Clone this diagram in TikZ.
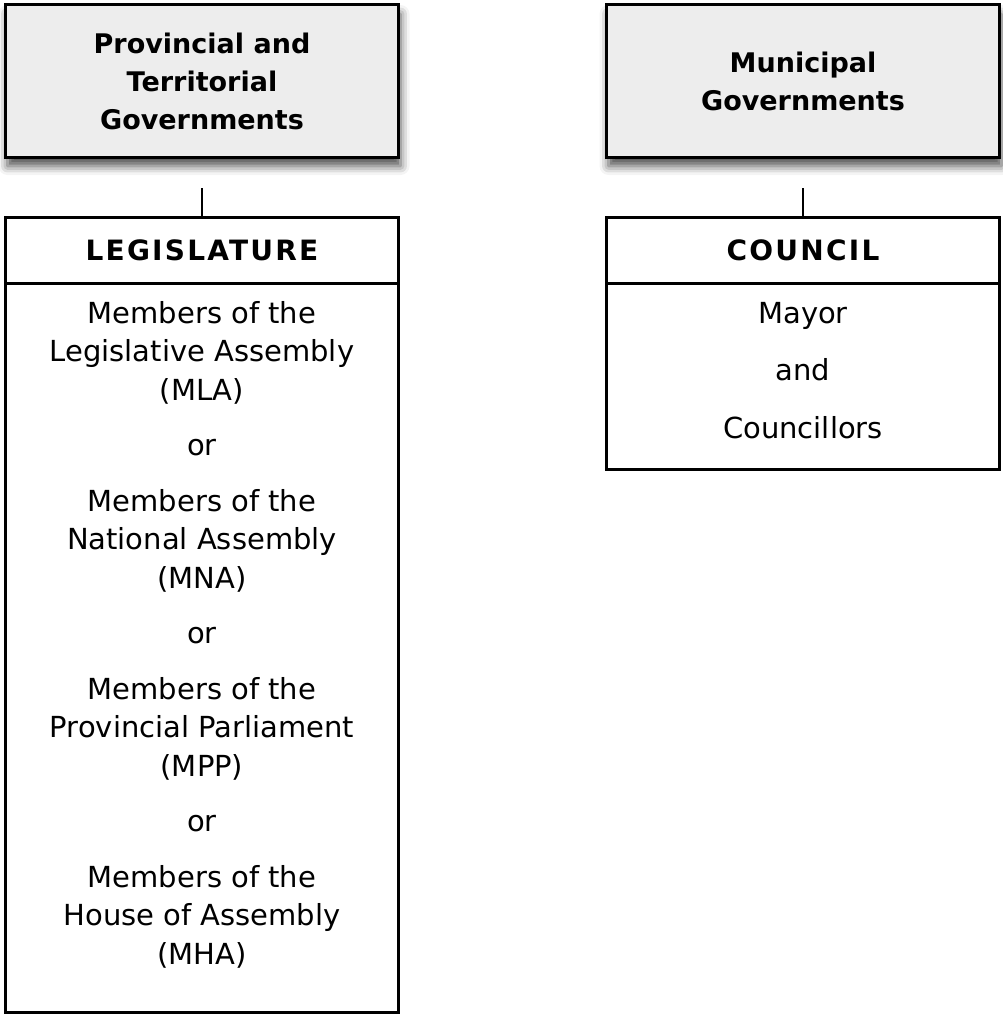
\documentclass[tikz,border=0pt]{standalone}
\usepackage{fontspec}
\setmainfont{DejaVu Sans}
\usetikzlibrary{positioning,shadows.blur}
\tikzset{
        govbox/.style={draw=black, line width=3pt, outer sep=0pt, fill=black!7, minimum width=393pt, minimum height=152pt, align=center,
          font=\bfseries\fontsize{27}{38}\selectfont,
          blur shadow={shadow xshift=2pt, shadow yshift=-9pt, shadow blur radius=9pt, shadow opacity=70}},
        headbox/.style={draw=black, line width=3pt, outer sep=0pt, minimum width=393pt, minimum height=66pt,
          font=\bfseries\fontsize{28}{32}\selectfont\addfontfeature{LetterSpace=8}},
        bodybox/.style={draw=black, line width=3pt, outer sep=0pt, minimum width=393pt},
        bodytext/.style={align=center, anchor=north, inner sep=0pt, font=\fontsize{29}{38.5}\selectfont},
        link/.style={line width=2pt}
          }

\begin{document}
\begin{tikzpicture}[x=1pt, y=-1pt]
        \useasboundingbox (0,0) rectangle (1002,1014);
        % governments
        \node[govbox] (prov) at (202,81) {Provincial and\\Territorial\\Governments};
        \node[govbox] (muni) at (803,81) {Municipal\\Governments};
        % header rows
        \node[headbox, below=60pt of prov] (leg) {LEGISLATURE};
        \node[headbox, below=60pt of muni] (coun) {COUNCIL};
        % body frames
        \node[bodybox, minimum height=729pt, below=0pt of leg] (legbody) {};
        \node[bodybox, minimum height=186pt, below=0pt of coun] (counbody) {};
        % body texts
        \node[bodytext, below=18pt of legbody.north] (members) {Members of the\\Legislative Assembly\\(MLA)\\[17pt]
          or\\[17pt]
          Members of the\\National Assembly\\(MNA)\\[17pt]
          or\\[17pt]
          Members of the\\Provincial Parliament\\(MPP)\\[17pt]
          or\\[17pt]
          Members of the\\House of Assembly\\(MHA)};
        \node[bodytext, below=19pt of counbody.north] (mayor) {Mayor\\[19pt] and\\[19pt] Councillors};
        % stems
        \coordinate[below=31pt of prov.south] (provstem);
        \coordinate[below=31pt of muni.south] (munistem);
        \draw[link] (provstem) -- (leg);
        \draw[link] (munistem) -- (coun);
      \end{tikzpicture}
\end{document}
